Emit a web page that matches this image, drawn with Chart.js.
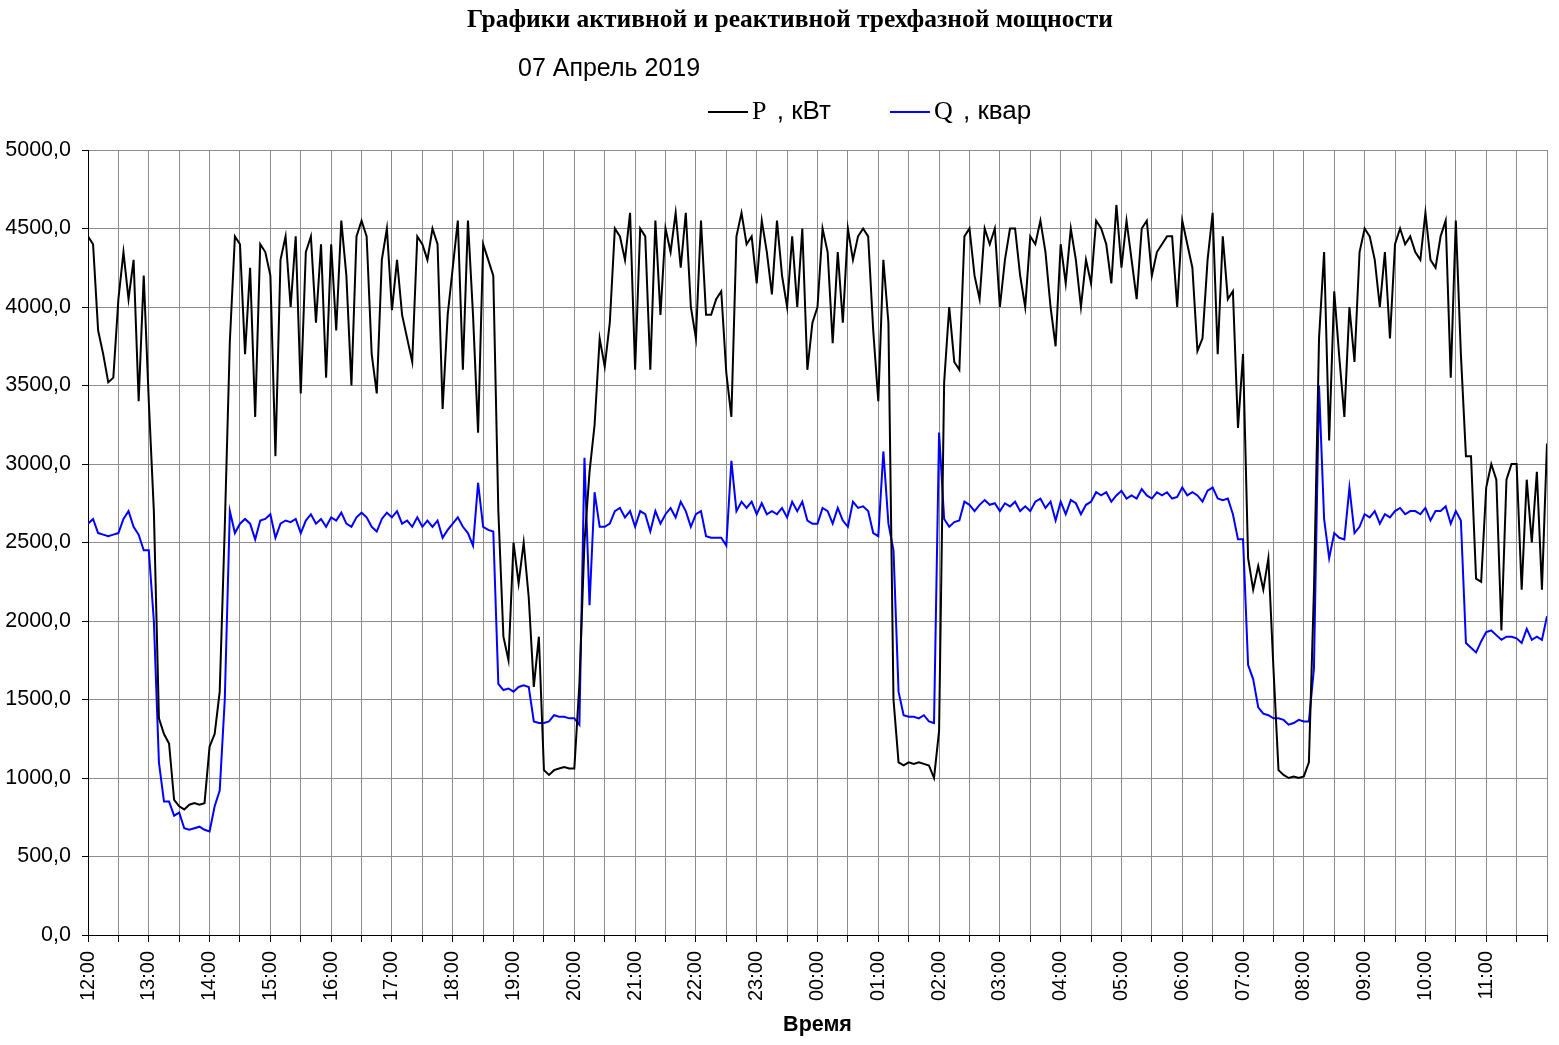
<!DOCTYPE html>
<html>
<head>
<meta charset="utf-8">
<script src="https://cdn.jsdelivr.net/npm/chart.js@4.4.1/dist/chart.umd.min.js"></script>
<style>
  html, body { margin: 0; padding: 0; background: #fff; }
  #wrap { position: relative; width: 1559px; height: 1045px; }
  #grafik { position: absolute; left: 0; top: 0; }
  .txt { position: absolute; white-space: nowrap; color: #000; }
  #judul { left: 0; width: 1580px; top: 4px; text-align: center; font: bold 25.5px "Liberation Serif", serif; }
  #tanggal { left: 518px; top: 53px; font: 25px "Liberation Sans", Arial, sans-serif; }
  .leg { top: 95px; font: 26px "Liberation Sans", Arial, sans-serif; }
  .leg .garis { display: inline-block; width: 40px; height: 2px; vertical-align: middle; margin-right: 4px; }
  .leg .huruf { font-family: "Liberation Serif", serif; margin-right: 3px; }
</style>
</head>
<body>
<div id="wrap">
  <canvas id="grafik" width="1559" height="1045"></canvas>
  <div class="txt" id="judul">Графики активной и реактивной трехфазной мощности</div>
  <div class="txt" id="tanggal">07 Апрель 2019</div>
  <div class="txt leg" style="left:708px"><span class="garis" style="background:#000"></span><span class="huruf">P</span> , кВт</div>
  <div class="txt leg" style="left:890px"><span class="garis" style="background:#0000ff"></span><span class="huruf">Q</span> , квар</div>
</div>
<script>
// jam label (tick) setiap 60 menit, mulai 12:00
const hourLabels = ['12:00', '13:00', '14:00', '15:00', '16:00', '17:00', '18:00', '19:00',
  '20:00', '21:00', '22:00', '23:00', '00:00', '01:00', '02:00', '03:00', '04:00', '05:00',
  '06:00', '07:00', '08:00', '09:00', '10:00', '11:00'];

// interval data dalam menit
const stepMin = 5;

// P, кВт  (per baris = satu jam, 12 titik)
const pKw = [
  4450, 4400, 3850, 3700, 3520, 3550, 4050, 4350, 4050, 4300, 3400, 4200,
  3400, 2700, 1380, 1280, 1220, 860, 820, 800, 830, 840, 830, 840,
  1200, 1280, 1550, 2600, 3780, 4450, 4400, 3700, 4250, 3300, 4400, 4350,
  4200, 3050, 4300, 4450, 4000, 4450, 3450, 4350, 4450, 3900, 4400, 3550,
  4400, 3850, 4550, 4200, 3500, 4450, 4550, 4450, 3700, 3450, 4300, 4500,
  3980, 4300, 3950, 3800, 3650, 4450, 4400, 4300, 4500, 4400, 3350, 3950,
  4250, 4550, 3600, 4550, 3950, 3200, 4400, 4300, 4200, 2700, 1900, 1750,
  2500, 2240, 2500, 2150, 1580, 1900, 1050, 1020, 1050, 1060, 1070, 1060,
  1060, 1600, 2500, 2950, 3250, 3800, 3620, 3900, 4500, 4450, 4300, 4600,
  3600, 4500, 4450, 3600, 4550, 3950, 4500, 4350, 4600, 4250, 4600, 4000,
  3800, 4550, 3950, 3950, 4050, 4100, 3580, 3300, 4450, 4600, 4400, 4450,
  4150, 4550, 4350, 4080, 4550, 4200, 4000, 4450, 4000, 4500, 3600, 3900,
  4000, 4500, 4350, 3770, 4350, 3900, 4500, 4300, 4450, 4500, 4450, 3850,
  3400, 4300, 3900, 1500, 1100, 1080, 1100, 1090, 1100, 1090, 1080, 1000,
  1300, 3520, 4000, 3650, 3600, 4450, 4500, 4200, 4050, 4500, 4400, 4500,
  4000, 4300, 4500, 4500, 4200, 4000, 4450, 4400, 4550, 4350, 4000, 3750,
  4400, 4150, 4500, 4300, 4000, 4300, 4150, 4550, 4500, 4400, 4150, 4650,
  4250, 4550, 4300, 4050, 4500, 4550, 4200, 4350, 4400, 4450, 4450, 4000,
  4550, 4400, 4250, 3720, 3800, 4300, 4600, 3700, 4450, 4050, 4100, 3230,
  3700, 2400, 2200, 2350, 2200, 2400, 1700, 1050, 1020, 1000, 1010, 1000,
  1010, 1100, 2200, 3800, 4350, 3150, 4100, 3680, 3300, 4000, 3650, 4350,
  4500, 4450, 4300, 4000, 4350, 3800, 4400, 4500, 4400, 4450, 4350, 4300,
  4600, 4300, 4250, 4450, 4550, 3550, 4550, 3700, 3050, 3050, 2270, 2250,
  2850, 3000, 2900, 1940, 2900, 3000, 3000, 2200, 2900, 2500, 2950, 2200,
  3130
];

// Q, квар
const qKvar = [
  2620, 2650, 2560, 2550, 2540, 2550, 2560, 2650, 2700, 2600, 2550, 2450,
  2450, 2000, 1100, 850, 850, 760, 780, 680, 670, 680, 690, 670,
  660, 820, 920, 1500, 2700, 2560, 2620, 2650, 2620, 2520, 2640, 2650,
  2680, 2530, 2620, 2640, 2630, 2650, 2560, 2640, 2680, 2620, 2650, 2600,
  2660, 2640, 2690, 2620, 2600, 2660, 2690, 2660, 2600, 2570, 2650, 2690,
  2660, 2700, 2620, 2640, 2600, 2660, 2600, 2640, 2600, 2640, 2530, 2580,
  2620, 2660, 2600, 2560, 2480, 2880, 2600, 2580, 2570, 1600, 1560, 1570,
  1550, 1580, 1590, 1580, 1360, 1350, 1350, 1360, 1400, 1390, 1390, 1380,
  1380, 1340, 3040, 2100, 2820, 2600, 2600, 2620, 2700, 2720, 2660, 2700,
  2600, 2700, 2680, 2570, 2700, 2620, 2680, 2720, 2660, 2760, 2700, 2600,
  2680, 2700, 2540, 2530, 2530, 2530, 2480, 3020, 2700, 2760, 2720, 2760,
  2680, 2750, 2680, 2700, 2680, 2720, 2660, 2760, 2700, 2760, 2640, 2620,
  2620, 2720, 2700, 2620, 2720, 2640, 2600, 2760, 2720, 2730, 2700, 2560,
  2540, 3080, 2620, 2450, 1550, 1400, 1390, 1390, 1380, 1400, 1360, 1350,
  3200, 2650, 2600, 2630, 2640, 2760, 2740, 2700, 2740, 2770, 2740, 2750,
  2700, 2750, 2730, 2760, 2700, 2730, 2700, 2760, 2780, 2720, 2760, 2640,
  2760, 2680, 2770, 2750, 2680, 2740, 2760, 2820, 2800, 2820, 2760, 2800,
  2830, 2780, 2800, 2780, 2840, 2800, 2780, 2820, 2800, 2820, 2780, 2790,
  2850, 2800, 2820, 2800, 2760, 2830, 2850, 2780, 2770, 2780, 2680, 2520,
  2520, 1720, 1630, 1450, 1410, 1400, 1380, 1380, 1370, 1340, 1350, 1370,
  1360, 1360, 1700, 3500, 2650, 2400, 2560, 2530, 2520, 2850, 2560, 2600,
  2680, 2660, 2700, 2620, 2680, 2660, 2700, 2720, 2680, 2700, 2700, 2680,
  2720, 2640, 2700, 2700, 2730, 2620, 2700, 2640, 1860, 1830, 1800, 1870,
  1930, 1940, 1910, 1880, 1900, 1900, 1890, 1860, 1950, 1880, 1900, 1880,
  2030
];

const keTitik = arr => arr.map((v, i) => ({ x: i * stepMin, y: v }));

const data = {
  datasets: [
    {
      label: 'P , кВт',
      data: keTitik(pKw),
      borderColor: '#000000',
      borderWidth: 2,
      pointRadius: 0,
      tension: 0,
    },
    {
      label: 'Q , квар',
      data: keTitik(qKvar),
      borderColor: '#0000ff',
      borderWidth: 2,
      pointRadius: 0,
      tension: 0,
    },
  ],
};

const config = {
  type: 'line',
  data,
  options: {
    responsive: false,
    animation: false,
    layout: { padding: { top: 150, right: 12, left: 0, bottom: 0 } },
    scales: {
      x: {
        type: 'linear',
        min: 0,
        max: 1440,
        afterFit: s => { s.height = 110; s.paddingLeft = 0; s.paddingRight = 0; },
        afterBuildTicks: s => {
          s.ticks = [];
          for (let m = 0; m <= 1440; m += 30) s.ticks.push({ value: m });
        },
        ticks: {
          autoSkip: false,
          maxRotation: 90,
          minRotation: 90,
          padding: 9,
          color: '#000',
          font: { family: 'Liberation Sans, Arial', size: 20 },
          callback: v => (v % 60 === 0 && v < 1440) ? hourLabels[v / 60] : '',
        },
        grid: { color: '#8c8c8c', tickColor: '#000', tickLength: 7, lineWidth: 1 },
        border: { color: '#000', width: 1 },
        title: {
          display: true,
          text: 'Время',
          color: '#000',
          font: { family: 'Liberation Sans, Arial', size: 21.5, weight: 'bold' },
          padding: { top: 0, bottom: 7 },
        },
      },
      y: {
        min: 0,
        max: 5000,
        afterFit: s => { s.width = 88; },
        ticks: {
          stepSize: 500,
          padding: 11,
          color: '#000',
          font: { family: 'Liberation Sans, Arial', size: 21.5 },
          callback: v => v.toFixed(1).replace('.', ','),
        },
        grid: { color: '#8c8c8c', tickColor: '#000', tickLength: 6, lineWidth: 1 },
        border: { color: '#000', width: 1 },
      },
    },
    plugins: {
      legend: { display: false },
      title: { display: false },
      tooltip: { enabled: false },
    },
  },
};

const myChart = new Chart(document.getElementById('grafik'), config);
</script>
</body>
</html>
